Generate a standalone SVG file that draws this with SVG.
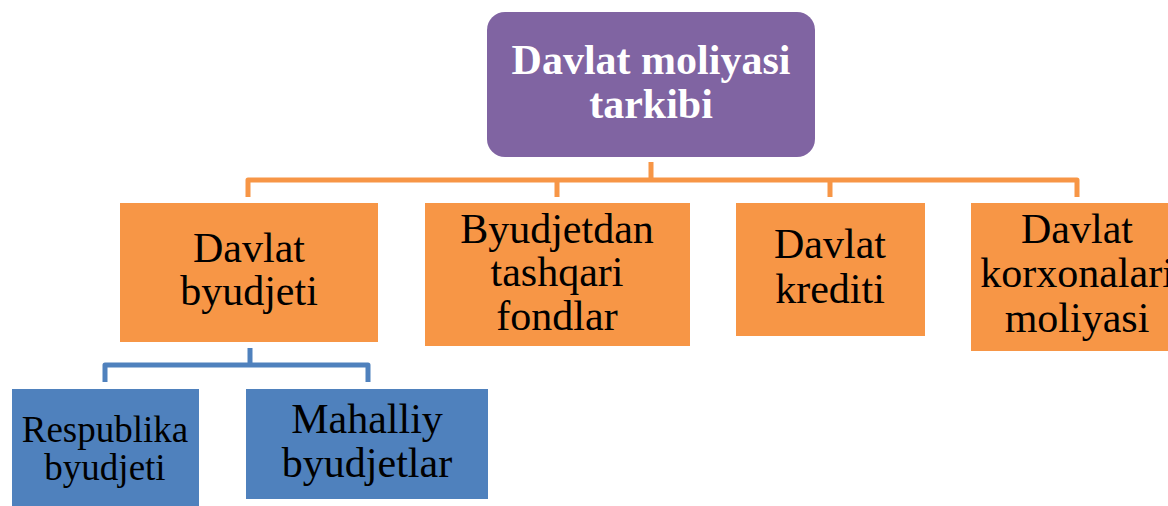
<svg xmlns="http://www.w3.org/2000/svg" width="1168" height="506" viewBox="0 0 1168 506">
  <style>
    .txt { font-family: "Liberation Serif", "Times New Roman", serif; font-size: 42px; fill: #000; text-anchor: middle; }
    .title { font-weight: bold; fill: #fff; }
    .small { font-size: 37px; }
    .orange { fill: #F79646; }
    .blue { fill: #4F81BD; }
    .conn { fill: none; stroke-width: 5; stroke-linejoin: round; }
  </style>
  <rect width="1168" height="506" fill="#fff"/>

  <g id="connectors">
    <path class="conn" stroke="#F79646" d="M651 162 V180 M248 197 V180 H1077 V197 M557 180 V197 M830 180 V197"/>
    <path class="conn" stroke="#4F81BD" d="M250 348 V365 M105 382 V365 H368 V382"/>
  </g>

  <g id="root">
    <rect x="487" y="12" width="328" height="145" rx="18" fill="#8064A2"/>
    <text class="txt title" x="651" y="74">Davlat moliyasi</text>
    <text class="txt title" x="651" y="118">tarkibi</text>
  </g>

  <g id="davlat-byudjeti">
    <rect class="orange" x="120" y="203" width="258" height="139"/>
    <text class="txt" x="249" y="262">Davlat</text>
    <text class="txt" x="249" y="305">byudjeti</text>
  </g>

  <g id="byudjetdan-tashqari">
    <rect class="orange" x="425" y="203" width="265" height="143"/>
    <text class="txt" x="557" y="243">Byudjetdan</text>
    <text class="txt" x="557" y="286">tashqari</text>
    <text class="txt" x="557" y="330">fondlar</text>
  </g>

  <g id="davlat-krediti">
    <rect class="orange" x="736" y="203" width="189" height="133"/>
    <text class="txt" x="830" y="258">Davlat</text>
    <text class="txt" x="830" y="303">krediti</text>
  </g>

  <g id="davlat-korxonalari">
    <rect class="orange" x="971" y="203" width="212" height="148"/>
    <text class="txt" x="1077" y="243">Davlat</text>
    <text class="txt" x="1077" y="287">korxonalari</text>
    <text class="txt" x="1077" y="332">moliyasi</text>
  </g>

  <g id="respublika-byudjeti">
    <rect class="blue" x="12" y="389" width="187" height="120"/>
    <text class="txt small" x="105" y="442">Respublika</text>
    <text class="txt small" x="105" y="480">byudjeti</text>
  </g>

  <g id="mahalliy-byudjetlar">
    <rect class="blue" x="246" y="389" width="242" height="110"/>
    <text class="txt" x="367" y="433">Mahalliy</text>
    <text class="txt" x="367" y="477">byudjetlar</text>
  </g>
</svg>
